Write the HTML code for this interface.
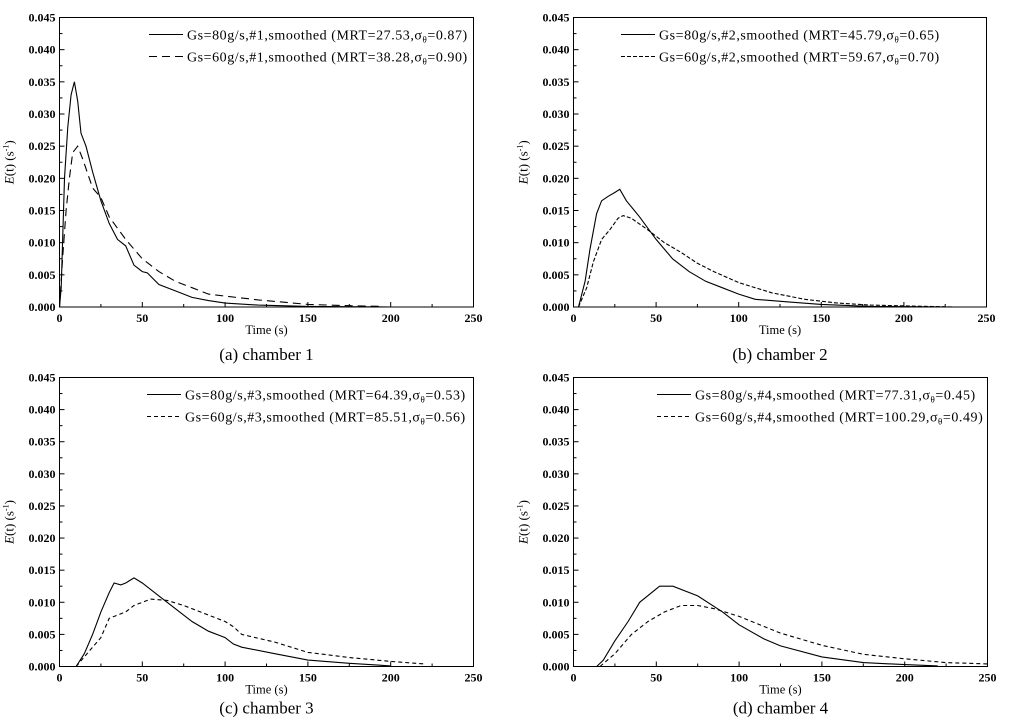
<!DOCTYPE html>
<html><head><meta charset="utf-8"><style>
body{margin:0;background:#fff;}
svg{display:block;font-family:"Liberation Serif",serif;}
</style></head><body>
<svg id="fig" width="1010" height="726" viewBox="0 0 1010 726"></svg>
<script>
const xTicks=[0,50,100,150,200,250];
const yTicks=["0.000","0.005","0.010","0.015","0.020","0.025","0.030","0.035","0.040","0.045"];
const a80T=[0,1,3,5,7,9,11,13,16,20,25,30,35,40,45,50,53,60,70,80,90,100,120,150,200];
const a80V=[0,0.003,0.02,0.028,0.033,0.035,0.032,0.027,0.025,0.021,0.0165,0.013,0.0105,0.0095,0.0065,0.0055,0.0053,0.0035,0.0025,0.0015,0.001,0.0006,0.0003,0.0001,0];
const a60T=[0,2,4,6,8,11,14,20,25,30,40,50,60,70,80,90,100,120,150,175,195];
const a60V=[0,0.008,0.015,0.02,0.024,0.025,0.023,0.0185,0.017,0.014,0.0105,0.0075,0.0055,0.004,0.003,0.002,0.0017,0.0011,0.0004,0.0002,0.0001];
const b80T=[3,7,10,14,17,21,25,28,32,40,50,60,70,80,90,100,110,130,150,180,230];
const b80V=[0,0.004,0.009,0.0145,0.0165,0.0172,0.0178,0.0183,0.0165,0.014,0.0105,0.0075,0.0055,0.004,0.003,0.002,0.0012,0.0008,0.0004,0.0001,0];
const b60T=[3,8,12,17,22,27,30,35,45,55,65,75,85,100,120,140,160,180,230];
const b60V=[0,0.003,0.007,0.0105,0.012,0.0138,0.0142,0.0138,0.012,0.01,0.0085,0.0068,0.0055,0.0038,0.0022,0.0012,0.0006,0.0003,0];
const c80T=[10,15,20,25,30,33,37,40,45,50,60,70,80,90,100,105,110,130,150,175,200];
const c80V=[0,0.002,0.005,0.0085,0.0115,0.013,0.0127,0.013,0.0138,0.013,0.011,0.009,0.007,0.0055,0.0045,0.0035,0.003,0.002,0.001,0.0005,0.0001];
const c60T=[10,20,25,30,35,40,45,55,65,75,85,100,105,110,130,150,175,200,220];
const c60V=[0,0.003,0.0045,0.0075,0.008,0.0085,0.0095,0.0105,0.0103,0.0095,0.0085,0.007,0.0062,0.005,0.0038,0.0022,0.0014,0.0008,0.0004];
const d80T=[14,18,25,33,40,52,60,75,90,100,115,125,150,175,200,220];
const d80V=[0,0.001,0.004,0.007,0.01,0.0125,0.0125,0.011,0.0085,0.0065,0.0043,0.0032,0.0015,0.0006,0.0003,0.0001];
const d60T=[16,25,35,45,55,65,75,85,100,125,150,175,200,225,250];
const d60V=[0,0.002,0.005,0.007,0.0085,0.0095,0.0095,0.009,0.0078,0.0052,0.0033,0.0019,0.0012,0.0006,0.0004];
const labels=[["Gs=80g/s,#1,smoothed (MRT=27.53,σ","0.87)","Gs=60g/s,#1,smoothed (MRT=38.28,σ","0.90)"],
["Gs=80g/s,#2,smoothed (MRT=45.79,σ","0.65)","Gs=60g/s,#2,smoothed (MRT=59.67,σ","0.70)"],
["Gs=80g/s,#3,smoothed (MRT=64.39,σ","0.53)","Gs=60g/s,#3,smoothed (MRT=85.51,σ","0.56)"],
["Gs=80g/s,#4,smoothed (MRT=77.31,σ","0.45)","Gs=60g/s,#4,smoothed (MRT=100.29,σ","0.49)"]];
const captions=["(a) chamber 1","(b) chamber 2","(c) chamber 3","(d) chamber 4"];
const panels=[
 {L:59.5,R:473.5,T:17.5,B:307,s1:[a80T,a80V],s2:[a60T,a60V],dash:"8,5",lx:149},
 {L:573.5,R:986.5,T:17.5,B:307,s1:[b80T,b80V],s2:[b60T,b60V],dash:"4,2",lx:621},
 {L:59.5,R:473.5,T:377.5,B:666.5,s1:[c80T,c80V],s2:[c60T,c60V],dash:"4,3",lx:147},
 {L:573.5,R:987.5,T:377.5,B:666.5,s1:[d80T,d80V],s2:[d60T,d60V],dash:"4,3",lx:657}];
const NS="http://www.w3.org/2000/svg";
const svg=document.getElementById('fig');
function mk(tag,attrs,parent){const e=document.createElementNS(NS,tag);for(const k in attrs)e.setAttribute(k,attrs[k]);(parent||svg).appendChild(e);return e;}
panels.forEach((p,i)=>{
 const g=mk('g',{});
 
 
 const X=v=>p.L+(v/250)*(p.R-p.L);
 const Y=v=>p.B-(v/0.045)*(p.B-p.T);
 const fr=mk('rect',{x:p.L,y:p.T,width:p.R-p.L,height:p.B-p.T,fill:'none',stroke:'#000','stroke-width':1},g);
 
 
 for(let v=0;v<=250;v+=25){const major=v%50===0;mk('line',{x1:X(v),x2:X(v),y1:p.B,y2:p.B-(major?5:3),stroke:'#000'},g);}
 for(let k=0;k<=18;k++){const v=k*0.0025;const major=k%2===0;mk('line',{x1:p.L,x2:p.L+(major?5:3),y1:Y(v),y2:Y(v),stroke:'#000'},g);}
 xTicks.forEach(v=>{const t=mk('text',{x:X(v),y:p.B+15,'text-anchor':'middle','font-size':12,'font-weight':'bold'},g);t.textContent=v;
  });
 yTicks.forEach(s=>{const t=mk('text',{x:p.L-4,y:Y(parseFloat(s))+4,'text-anchor':'end','font-size':12,'font-weight':'bold'},g);t.textContent=s;
  });
 const xt=mk('text',{x:(p.L+p.R)/2,y:p.B+27,'text-anchor':'middle','font-size':12.5},g);xt.textContent='Time (s)';
 
 const yc=(p.T+p.B)/2;
 const yt=mk('text',{x:0,y:0,'text-anchor':'middle','font-size':13,transform:`translate(${p.L-46},${yc}) rotate(-90)`},g);
 yt.innerHTML='<tspan font-style="italic">E</tspan>(t) (s<tspan dy="-5" font-size="8">-1</tspan><tspan dy="5">)</tspan>';
 
 const cap=mk('text',{x:(p.L+p.R)/2,y:p.B+(i<2?53:47),'text-anchor':'middle','font-size':17},g);cap.textContent=captions[i];
 
 [[p.s1,null],[p.s2,p.dash]].forEach(([s,d],j)=>{
  const pts=s[0].map((t,k)=>X(t).toFixed(1)+','+Y(s[1][k]).toFixed(1)).join(' ');
  const a={points:pts,fill:'none',stroke:'#000','stroke-width':1.1};if(d)a['stroke-dasharray']=d;
  const pl=mk('polyline',a,g);
  
  
  const ly=p.T+(j===0?17:39);
  const la={x1:p.lx,x2:p.lx+34,y1:ly,y2:ly,stroke:'#000','stroke-width':1.1};if(d)la['stroke-dasharray']=d;
  mk('line',la,g);
  const lt=mk('text',{x:p.lx+38,y:ly+5,'font-size':14,'letter-spacing':0.55},g);
  lt.innerHTML=labels[i][j*2]+'<tspan dy="3" font-size="9">θ</tspan><tspan dy="-3">='+labels[i][j*2+1]+'</tspan>';
  
 });
});
</script>
</body></html>
